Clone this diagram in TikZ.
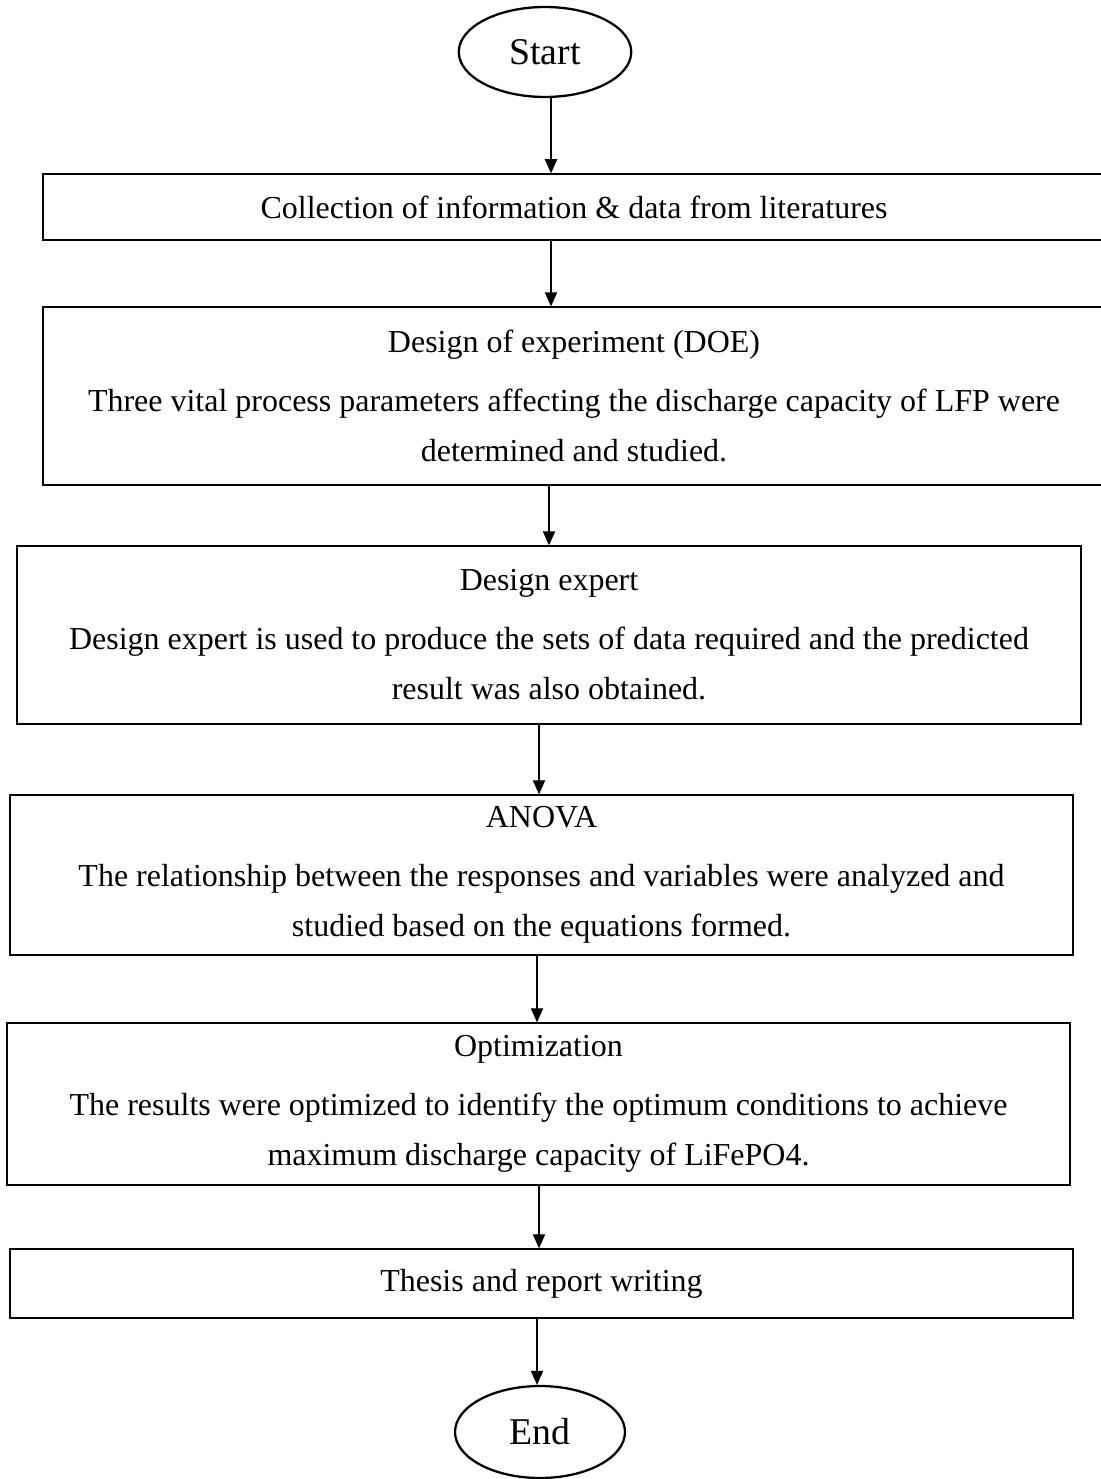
\documentclass[tikz,border=0pt]{standalone}
\usepackage{fontspec}
\setmainfont{Liberation Serif}
\usetikzlibrary{shapes.geometric, arrows.meta}

\begin{document}
\begin{tikzpicture}[x=0.02cm, y=-0.02cm,
  procbox/.style 2 args={draw, line width=0.8pt, minimum width=#1, minimum height=#2, inner sep=0pt, align=center, font=\fontsize{18.2}{28.5}\selectfont},
  terminal/.style={draw, ellipse, line width=1.3pt, minimum width=3.45cm, minimum height=1.8cm, inner sep=0pt, font=\fontsize{21.5}{25}\selectfont},
  flow/.style={-{Triangle[length=8pt, width=7pt]}, line width=0.6pt}]
  \useasboundingbox (0,0) rectangle (1100,1479);

  \node[terminal] (start) at (545,52) {Start};
  \node[procbox={21.24cm}{1.32cm}] (collect) at (574,207) {Collection of information \& data from literatures};
  \node[procbox={21.24cm}{3.56cm}] (doe) at (574,396) {Design of experiment (DOE)\\[5pt]Three vital process parameters affecting the discharge capacity of LFP were\\determined and studied.};
  \node[procbox={21.28cm}{3.56cm}] (expert) at (549,635) {Design expert\\[5pt]Design expert is used to produce the sets of data required and the predicted\\result was also obtained.};
  \node[procbox={21.26cm}{3.2cm}] (anova) at (541.5,875) {ANOVA\\[5pt]The relationship between the responses and variables were analyzed and\\studied based on the equations formed.};
  \node[procbox={21.26cm}{3.24cm}] (optim) at (538.5,1104) {Optimization\\[5pt]The results were optimized to identify the optimum conditions to achieve\\maximum discharge capacity of LiFePO4.};
  \node[procbox={21.26cm}{1.38cm}] (thesis) at (541.5,1283.5) {Thesis and report writing};
  \node[terminal, minimum width=3.4cm, minimum height=1.84cm] (end) at (540,1432) {End};

  % vertical connectors
  \foreach \a/\b/\x in {start/collect/551, collect/doe/551, doe/expert/549, expert/anova/539, anova/optim/537, optim/thesis/539, thesis/end/537}
    \draw[flow] (\x,0 |- \a.south) -- (\x,0 |- \b.north);
\end{tikzpicture}
\end{document}
